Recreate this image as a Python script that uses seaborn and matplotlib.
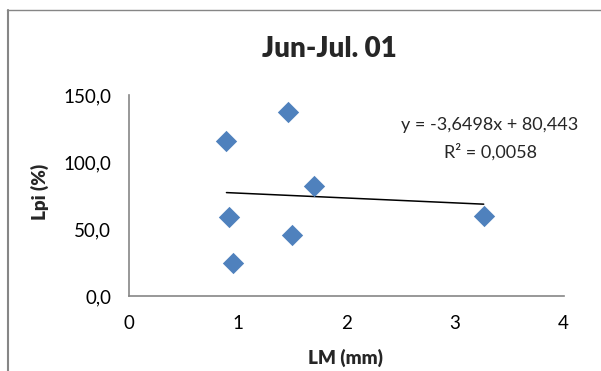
import matplotlib
matplotlib.use("Agg")
import matplotlib.pyplot as plt
from matplotlib.lines import Line2D
import numpy as np
import pandas as pd
import seaborn as sns

# Leaf measurements: LM (mm) against Lpi (%)
lm_mm = [0.895, 0.92, 0.957, 1.459, 1.498, 1.70, 3.265]
lpi_pct = [115.7, 58.7, 24.9, 137.5, 45.5, 82.3, 60.0]

# Linear trend line coefficients and fit quality
slope = -3.6498
intercept = 80.443
r_squared = 0.0058

x_ticks = [0, 1, 2, 3, 4]
y_ticks = [0, 50, 100, 150]
y_tick_labels = ["0,0", "50,0", "100,0", "150,0"]

title = "Jun-Jul. 01"
x_label = "LM (mm)"
y_label = "Lpi (%)"

sns.set_style("white")
plt.rcParams["font.family"] = ["Lato", "DejaVu Sans"]

W, H = 601, 371
fig = plt.figure(figsize=(W / 100, H / 100), dpi=100)
fig.patch.set_facecolor("white")

ax_left, ax_right, ax_top, ax_bottom = 129.3, 563.5, 95.0, 296.0
ax = fig.add_axes([ax_left / W, 1 - ax_bottom / H,
                   (ax_right - ax_left) / W, (ax_bottom - ax_top) / H])

df = pd.DataFrame({"LM": lm_mm, "Lpi": lpi_pct})
sns.scatterplot(data=df, x="LM", y="Lpi", marker="D", s=118,
                color="#4F81BD", linewidth=0, ax=ax, zorder=3)

trend_x = np.array([min(lm_mm), max(lm_mm)])
trend_y = slope * trend_x + intercept
sns.lineplot(x=trend_x, y=trend_y, color="black", linewidth=1.1, ax=ax, zorder=2)

axis_grey = "#868686"
ax.set_xlim(0, 4)
ax.set_ylim(0, 150)
ax.set_xticks(x_ticks)
ax.set_xticklabels([str(t) for t in x_ticks])
ax.set_yticks(y_ticks)
ax.set_yticklabels(y_tick_labels)
for side in ("top", "right"):
    ax.spines[side].set_visible(False)
for side in ("left", "bottom"):
    ax.spines[side].set_color(axis_grey)
    ax.spines[side].set_linewidth(1.2)
ax.tick_params(axis="both", direction="out", length=4.5, width=1.0,
               color=axis_grey, labelsize=13.5, labelcolor="black")
ax.tick_params(axis="y", pad=8.5)
ax.tick_params(axis="x", pad=9)
ax.set_xlabel("")
ax.set_ylabel("")

fig.text(329 / W, 1 - 48.7 / H, title, ha="center", va="center",
         fontsize=20, fontweight="heavy")
fig.text(345 / W, 1 - 358 / H, x_label, ha="center", va="center",
         fontsize=13.5, fontweight="heavy")
fig.text(40 / W, 1 - 191.5 / H, y_label, ha="center", va="center",
         fontsize=13.5, fontweight="heavy", rotation=90)

eq_text = f"y = {slope:.4f}x + {intercept:.3f}".replace(".", ",")
r2_text = f"R² = {r_squared:.4f}".replace(".", ",")
fig.text(490 / W, 1 - 125 / H, eq_text, ha="center", va="center", fontsize=13)
fig.text(490.5 / W, 1 - 151.7 / H, r2_text, ha="center", va="center", fontsize=13)

# Chart frame (top and left edges)
fig.add_artist(Line2D([7.5 / W, 7.5 / W], [0, 1 - 10 / H],
                      transform=fig.transFigure, color=axis_grey, linewidth=1.5))
fig.add_artist(Line2D([7 / W, 1], [1 - 10.3 / H, 1 - 10.3 / H],
                      transform=fig.transFigure, color=axis_grey, linewidth=1.0))

fig.savefig("out.png", dpi=100, facecolor="white")
